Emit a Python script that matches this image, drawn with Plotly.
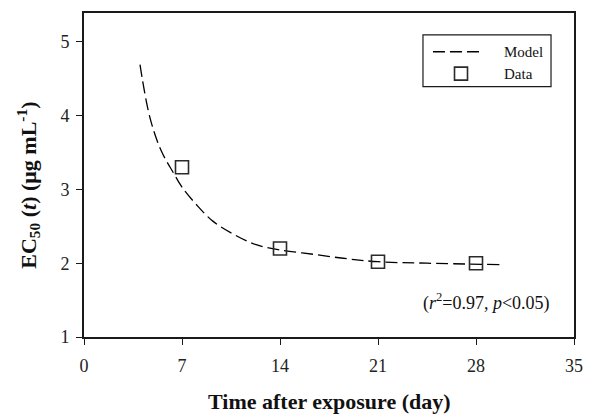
import plotly.graph_objects as go

# Data
data_t = [7, 14, 21, 28]
data_ec50 = [3.30, 2.20, 2.02, 2.00]

# Model curve
model_t = [4.0, 4.7, 5.5, 6.4, 7.0, 8.0, 9.2, 10.7, 12.3, 14.0, 16.4, 18.8, 21.0, 24.5, 29.8]
model_ec50 = [4.69, 3.98, 3.53, 3.22, 3.03, 2.80, 2.57, 2.39, 2.25, 2.18, 2.12, 2.06, 2.02, 2.00, 1.98]

x_ticks = [0, 7, 14, 21, 28, 35]
y_ticks = [1, 2, 3, 4, 5]

FONT = "Liberation Serif"
DASH = "12px,5px"
INK = "#1a1a1a"

fig = go.Figure()
fig.add_trace(go.Scatter(
    x=model_t, y=model_ec50, mode="lines", name="Model",
    line=dict(color="black", width=1.3, dash=DASH, shape="spline", smoothing=1.0),
))
fig.add_trace(go.Scatter(
    x=data_t, y=data_ec50, mode="markers", name="Data",
    marker=dict(symbol="square-open", size=13, color="#2a2a2a", line=dict(width=1.6, color="#2a2a2a")),
))

axis_common = dict(
    showgrid=False, zeroline=False, showline=True, linecolor=INK, linewidth=1.8,
    mirror=True, ticks="outside", ticklen=6, tickwidth=1.2, tickcolor=INK,
    tickfont=dict(family=FONT, size=18, color="#222"),
)

fig.update_xaxes(range=[0, 35], tickvals=x_ticks, ticklabelstandoff=5, **axis_common)
fig.update_yaxes(range=[1, 5.39], tickvals=y_ticks, ticklabelstandoff=3, **axis_common)

# Axis titles
fig.add_annotation(
    xref="paper", yref="paper", x=-0.115, y=0.469, xanchor="center", yanchor="middle",
    text="EC<sub>50</sub> (<i>t</i>) (μg mL<sup>-1</sup>)", textangle=-90, showarrow=False,
    font=dict(family=FONT, size=22, color="#111", weight="bold"),
)
fig.add_annotation(
    xref="paper", yref="paper", x=0.5, y=-0.2, xanchor="center", yanchor="middle",
    text="Time after exposure (day)", showarrow=False,
    font=dict(family=FONT, size=22, color="#111", weight="bold"),
)
fig.add_annotation(
    xref="x", yref="y", x=33.43, y=1.47, xanchor="right", yanchor="middle",
    text="(<i>r</i><sup>2</sup>=0.97, <i>p</i><0.05)", showarrow=False,
    font=dict(family=FONT, size=18, color="#111"),
)

# Legend box (drawn manually to match the original layout)
fig.add_shape(type="rect", xref="paper", yref="paper", x0=0.6918, x1=0.9531, y0=0.773, y1=0.9325,
              line=dict(color=INK, width=1.2), fillcolor="white", layer="above")
fig.add_shape(type="line", xref="paper", yref="paper", x0=0.7122, x1=0.8143, y0=0.8804, y1=0.8804,
              line=dict(color="black", width=1.3, dash=DASH), layer="above")
fig.add_shape(type="rect", xref="paper", yref="paper", xsizemode="pixel", ysizemode="pixel",
              xanchor=0.7694, yanchor=0.8129, x0=-6.5, x1=6.5, y0=-6.5, y1=6.5,
              line=dict(color="#2a2a2a", width=1.6), layer="above")
for label, yy in [("Model", 0.8804), ("Data", 0.8129)]:
    fig.add_annotation(xref="paper", yref="paper", x=0.853, y=yy, xanchor="left", yanchor="middle",
                       text=label, showarrow=False, font=dict(family=FONT, size=15, color="#111"))

fig.update_layout(
    width=597, height=415,
    margin=dict(l=84, r=23, t=11, b=78),
    plot_bgcolor="white", paper_bgcolor="white",
    showlegend=False,
)

fig.write_html(
    "out.html",
    config={"displayModeBar": False},
    post_script="document.body.style.margin='0';document.body.style.overflow='hidden';",
)
